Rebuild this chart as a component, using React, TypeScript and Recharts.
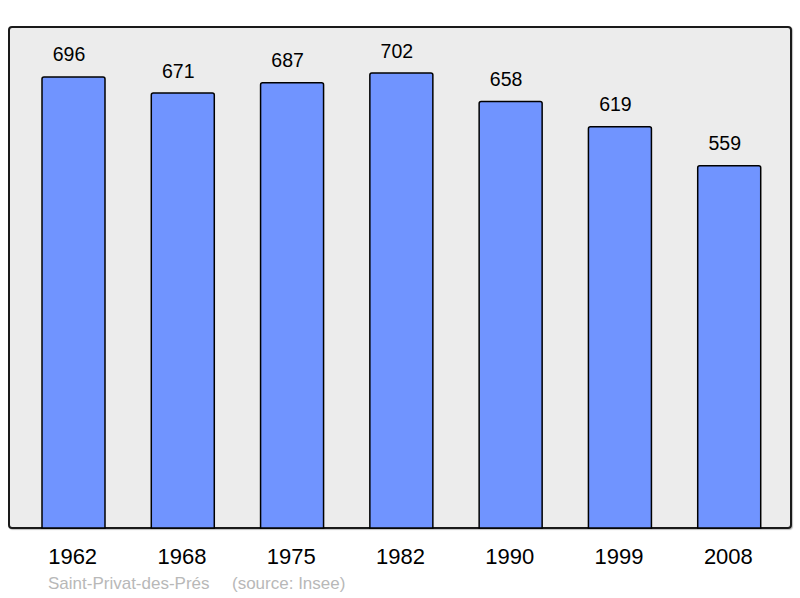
import React from "react";
import { BarChart, Bar, XAxis, YAxis, LabelList } from "recharts";

// Census years and population
const years: string[] = ["1962", "1968", "1975", "1982", "1990", "1999", "2008"];
const population: number[] = [696, 671, 687, 702, 658, 619, 559];

const commune = "Saint-Privat-des-Prés";
const source = "(source: Insee)";

const data = years.map((year, i) => ({ year, population: population[i] }));

const FONT = "'Liberation Sans', Arial, Helvetica, sans-serif";

const YearTick = (props: any) => {
  const { x, y, payload } = props;
  return (
    <text
      x={x - 1}
      y={y + 28}
      textAnchor="middle"
      fill="#000"
      fontSize={22}
      fontFamily={FONT}
    >
      {payload.value}
    </text>
  );
};

const ValueLabel = (props: any) => {
  const { x, y, width, value } = props;
  return (
    <text
      x={x + width / 2 - 4.5}
      y={y - 15.5}
      textAnchor="middle"
      fill="#000"
      fontSize={19.5}
      fontFamily={FONT}
    >
      {value}
    </text>
  );
};

export default function App() {
  return (
    <div
      style={{
        position: "absolute",
        left: 0,
        top: 0,
        width: 800,
        height: 598,
        background: "#fff",
        fontFamily: FONT,
      }}
    >
      {/* grey panel behind the bars */}
      <div
        style={{
          position: "absolute",
          left: 8,
          top: 26,
          width: 784,
          height: 503,
          boxSizing: "border-box",
          border: "2px solid #1a1a1a",
          borderRadius: 4,
          background: "#ececec",
          boxShadow: "1px 1px 1px rgba(0,0,0,0.25)",
        }}
      />
      <div style={{ position: "absolute", left: 0, top: 0 }}>
        <BarChart
          width={800}
          height={598}
          data={data}
          margin={{ top: 27, right: 16, left: 19, bottom: 0 }}
        >
          <XAxis
            dataKey="year"
            height={70}
            axisLine={false}
            tickLine={false}
            tick={<YearTick />}
            interval={0}
          />
          <YAxis hide domain={[0, 773]} />
          <Bar
            dataKey="population"
            fill="#7094ff"
            stroke="#000"
            strokeWidth={1.5}
            barSize={63}
            radius={[2, 2, 0, 0]}
            isAnimationActive={false}
          >
            <LabelList dataKey="population" content={<ValueLabel />} />
          </Bar>
        </BarChart>
      </div>
      <div
        style={{
          position: "absolute",
          left: 48,
          top: 574,
          fontSize: 17,
          color: "#b8b8b8",
          whiteSpace: "pre",
          lineHeight: "20px",
        }}
      >
        {commune}
      </div>
      <div
        style={{
          position: "absolute",
          left: 232,
          top: 574,
          fontSize: 17,
          color: "#b8b8b8",
          whiteSpace: "pre",
          lineHeight: "20px",
        }}
      >
        {source}
      </div>
    </div>
  );
}
